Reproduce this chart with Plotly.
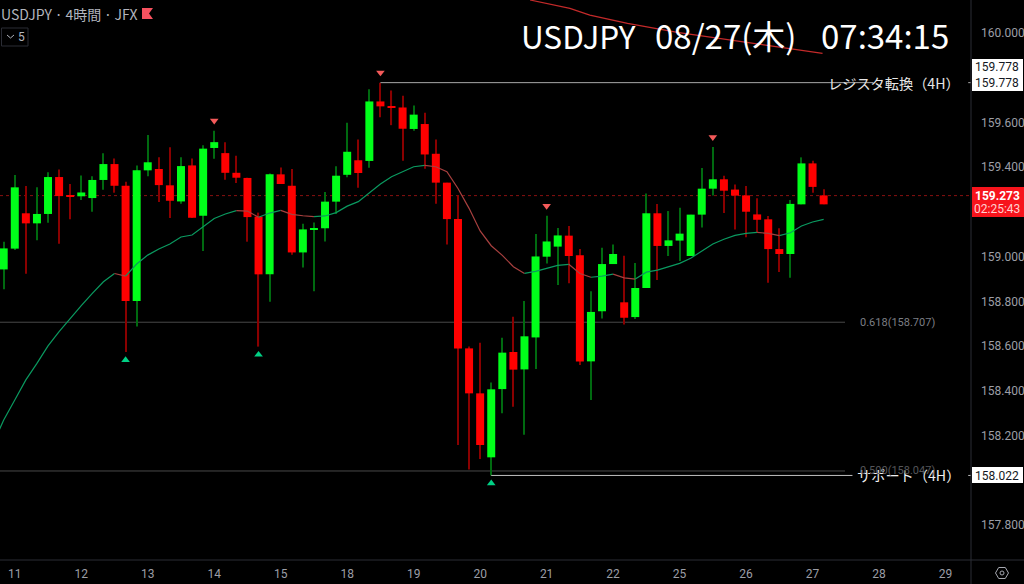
import plotly.graph_objects as go

W, H = 1024, 584
PLOT_R, PLOT_B = 971, 560

# candles, 4H bars, oldest first
opens = [158.943, 159.036, 159.194, 159.149, 159.191, 159.356, 159.273, 159.270, 159.262, 159.343,
         159.414, 159.317, 158.802, 159.386, 159.392, 159.319, 159.247, 159.408, 159.183, 159.486,
         159.463, 159.375, 159.352, 159.179, 158.921, 159.368, 159.317, 159.019, 159.121, 159.127,
         159.246, 159.366, 159.431, 159.428, 159.694, 159.669, 159.667, 159.571, 159.593, 159.460,
         159.331, 159.168, 158.590, 158.389, 158.103, 158.408, 158.574, 158.496, 158.639, 159.000,
         159.045, 159.094, 159.006, 158.532, 158.756, 158.967, 158.796, 158.730, 158.860, 159.194,
         159.048, 159.072, 159.003, 159.188, 159.304, 159.346, 159.300, 159.274, 159.189, 159.167,
         159.034, 159.012, 159.234, 159.417, 159.274]
highs = [159.067, 159.365, 159.316, 159.310, 159.378, 159.390, 159.325, 159.363, 159.360, 159.462,
         159.439, 159.335, 159.408, 159.544, 159.444, 159.489, 159.444, 159.439, 159.498, 159.563,
         159.512, 159.451, 159.353, 159.197, 159.372, 159.399, 159.392, 159.147, 159.153, 159.289,
         159.404, 159.599, 159.524, 159.749, 159.778, 159.743, 159.720, 159.676, 159.644, 159.524,
         159.331, 159.273, 158.598, 158.615, 158.438, 158.638, 158.732, 158.802, 159.101, 159.183,
         159.128, 159.137, 159.034, 158.846, 159.040, 159.055, 159.004, 158.972, 159.283, 159.235,
         159.204, 159.219, 159.188, 159.396, 159.490, 159.362, 159.323, 159.316, 159.261, 159.182,
         159.127, 159.253, 159.444, 159.429, 159.301]
lows = [158.854, 159.030, 158.924, 159.074, 159.152, 159.058, 159.167, 159.253, 159.201, 159.299,
        159.286, 158.574, 158.688, 159.360, 159.244, 159.173, 159.237, 159.173, 159.025, 159.438,
        159.344, 159.329, 159.067, 158.598, 158.799, 159.325, 159.009, 158.952, 158.846, 159.068,
        159.191, 159.355, 159.308, 159.398, 159.623, 159.588, 159.429, 159.563, 159.393, 159.237,
        159.054, 158.158, 158.049, 158.095, 158.022, 158.300, 158.329, 158.204, 158.498, 158.969,
        158.873, 158.881, 158.516, 158.359, 158.724, 158.967, 158.697, 158.721, 158.860, 158.896,
        159.003, 158.981, 159.003, 159.130, 159.273, 159.195, 159.121, 159.087, 159.107, 158.884,
        158.932, 158.906, 159.234, 159.286, 159.234]
closes = [159.037, 159.310, 159.149, 159.191, 159.356, 159.271, 159.270, 159.287, 159.343, 159.414,
          159.317, 158.802, 159.386, 159.422, 159.320, 159.250, 159.405, 159.174, 159.483, 159.512,
          159.375, 159.353, 159.177, 158.921, 159.368, 159.325, 159.019, 159.122, 159.127, 159.246,
          159.362, 159.469, 159.374, 159.694, 159.672, 159.666, 159.572, 159.635, 159.457, 159.331,
          159.168, 158.590, 158.389, 158.158, 158.407, 158.571, 158.495, 158.644, 159.001, 159.068,
          159.095, 159.003, 158.531, 158.753, 158.967, 159.012, 158.727, 158.860, 159.194, 159.048,
          159.073, 159.103, 159.188, 159.304, 159.346, 159.295, 159.273, 159.201, 159.165, 159.034,
          159.012, 159.236, 159.417, 159.312, 159.234]
# ema has one more point than the candles, it runs in from the bar left of the frame
ema = [158.158, 158.270, 158.359, 158.449, 158.523, 158.601, 158.665, 158.724, 158.781, 158.836, 158.888,
       158.925, 158.913, 158.967, 159.007, 159.034, 159.057, 159.088, 159.097, 159.134, 159.171,
       159.191, 159.206, 159.204, 159.176, 159.195, 159.207, 159.189, 159.183, 159.179, 159.182,
       159.197, 159.226, 159.246, 159.287, 159.325, 159.357, 159.378, 159.402, 159.408, 159.402,
       159.380, 159.305, 159.216, 159.115, 159.049, 159.006, 158.955, 158.925, 158.934, 158.948,
       158.961, 158.966, 158.925, 158.908, 158.913, 158.922, 158.905, 158.900, 158.931, 158.940,
       158.955, 158.970, 158.993, 159.027, 159.057, 159.078, 159.095, 159.104, 159.109, 159.104,
       159.094, 159.107, 159.137, 159.155, 159.167]

# swing markers
peak_idx = [19, 34, 49, 64]
peak_price = [159.608, 159.823, 159.227, 159.534]
trough_idx = [11, 23, 44]
trough_price = [158.538, 158.562, 157.987]

# red trend line at the top
trend_idx = [47.5, 51.1, 52.9, 56.3, 60.8, 66.7, 73.9]
trend_price = [160.1475, 160.110, 160.080, 160.043, 160.003, 159.961, 159.909]

# x axis: one label every 6 bars
day_ticks = [1, 7, 13, 19, 25, 31, 37, 43, 49, 55, 61, 67, 73, 79, 85]
day_labels = ["11", "12", "13", "14", "15", "18", "19", "20", "21", "22", "25", "26", "27", "28", "29"]

# the labels hidden behind the price tags are left out
price_ticks = [160.0, 159.6, 159.4, 159.0, 158.8, 158.6, 158.4, 158.2, 157.8]
price_labels = ["160.000", "159.600", "159.400", "159.000", "158.800", "158.600", "158.400", "158.200", "157.800"]

RESIST = 159.778
SUPPORT = 158.022
FIB_618 = 158.707
FIB_500 = 158.042
LAST = 159.273

GREEN, RED = "#00ff1a", "#ff0000"
WICK_G, WICK_R = "#006a10", "#8a0000"
GREY = "#9c9ea6"
AXIS = "#2a2c34"
UI_FONT = "Roboto"
JP_FONT = "Noto Sans CJK JP"


def px(x):
    return x / W


def py(y):
    return 1 - y / H


def poly(points):
    return "M" + " L".join(f"{px(a):.5f},{py(b):.5f}" for a, b in points) + " Z"


idx = list(range(len(opens)))
ema_idx = [-1] + idx
up = [c >= o for o, c in zip(opens, closes)]
body_base = [min(o, c) for o, c in zip(opens, closes)]
body_size = [max(abs(o - c), 0.004) for o, c in zip(opens, closes)]

fig = go.Figure()

fig.add_trace(go.Bar(
    x=idx, y=[h - l for h, l in zip(highs, lows)], base=lows, width=0.1,
    marker=dict(color=[WICK_G if u else WICK_R for u in up], line_width=0),
))
fig.add_trace(go.Bar(
    x=idx, y=body_size, base=body_base, width=0.72,
    marker=dict(color=[GREEN if u else RED for u in up], line_width=0),
))

# ema: green while rising, red while falling
start = 0
for i in range(1, len(ema) + 1):
    if i == len(ema) or (ema[i] >= ema[i - 1]) != (ema[start + 1] >= ema[start]):
        rising = ema[start + 1] >= ema[start]
        fig.add_trace(go.Scatter(
            x=ema_idx[start:i], y=ema[start:i], mode="lines",
            line=dict(color="#0a9a60" if rising else "#a8403f", width=1.2),
        ))
        start = i - 1

fig.add_trace(go.Scatter(x=trend_idx, y=trend_price, mode="lines", line=dict(color="#c42a2a", width=1.2)))

# level lines
fig.add_trace(go.Scatter(x=[34, 78.5], y=[RESIST, RESIST], mode="lines", line=dict(color="#a8a8a8", width=1)))
fig.add_trace(go.Scatter(x=[44, 76.6], y=[SUPPORT, SUPPORT], mode="lines", line=dict(color="#c0c0c0", width=1)))
fig.add_trace(go.Scatter(x=[87.05, 87.3], y=[RESIST, RESIST], mode="lines", line=dict(color="#a8a8a8", width=1)))
fig.add_trace(go.Scatter(x=[87.05, 87.3], y=[SUPPORT, SUPPORT], mode="lines", line=dict(color="#c0c0c0", width=1)))

fig.add_trace(go.Scatter(
    x=peak_idx, y=peak_price, mode="markers",
    marker=dict(symbol="triangle-down", size=7.5, color="#f45a5a"),
))
fig.add_trace(go.Scatter(
    x=trough_idx, y=trough_price, mode="markers",
    marker=dict(symbol="triangle-up", size=7.5, color="#00d084"),
))

shapes = [
    # fib levels and last price sit behind the candles
    dict(type="line", xref="paper", yref="y", x0=0, x1=px(845), y0=FIB_618, y1=FIB_618,
         line=dict(color="#484848", width=1), layer="below"),
    dict(type="line", xref="paper", yref="y", x0=0, x1=px(845), y0=FIB_500, y1=FIB_500,
         line=dict(color="#484848", width=1), layer="below"),
    dict(type="line", xref="paper", yref="y", x0=0, x1=px(PLOT_R), y0=LAST, y1=LAST,
         line=dict(color="#8a1010", width=1, dash="dot"), layer="below"),
    # frame
    dict(type="line", xref="paper", yref="paper", x0=px(PLOT_R), x1=px(PLOT_R), y0=0, y1=1,
         line=dict(color=AXIS, width=1)),
    dict(type="line", xref="paper", yref="paper", x0=0, x1=1, y0=py(PLOT_B), y1=py(PLOT_B),
         line=dict(color=AXIS, width=1)),
    # price tags
    dict(type="rect", xref="paper", yref="paper", x0=px(972), x1=px(1023), y0=py(59), y1=py(91),
         fillcolor="#ffffff", line_width=0),
    dict(type="rect", xref="paper", yref="paper", x0=px(972), x1=px(1023), y0=py(467), y1=py(483),
         fillcolor="#ffffff", line_width=0),
    dict(type="rect", xref="paper", yref="paper", x0=px(972), x1=px(1024), y0=py(187), y1=py(217),
         fillcolor="#f7141c", line_width=0),
    # flag
    dict(type="path", xref="paper", yref="paper", line_width=0, fillcolor="#f7525f",
         path=poly([(142, 8), (153, 8), (149, 13.5), (153, 19), (142, 19)])),
    # "5" button
    dict(type="rect", xref="paper", yref="paper", x0=px(1.5), x1=px(28), y0=py(28), y1=py(46),
         line=dict(color=AXIS, width=1)),
    dict(type="path", xref="paper", yref="paper", line=dict(color="#b2b5be", width=1),
         path=f"M{px(7):.5f},{py(35):.5f} L{px(10.5):.5f},{py(38):.5f} L{px(14):.5f},{py(35):.5f}"),
    # settings icon
    dict(type="path", xref="paper", yref="paper", line=dict(color="#a6a8b0", width=1),
         path=poly([(995.5, 573), (998.7, 567.5), (1005.3, 567.5), (1008.5, 573), (1005.3, 578.5), (998.7, 578.5)])),
    dict(type="circle", xref="paper", yref="paper", x0=px(1000), x1=px(1004), y0=py(571), y1=py(575),
         line=dict(color="#a6a8b0", width=1)),
]


def label(x, y, text, size, color, anchor="left", font=UI_FONT, yref="paper"):
    return dict(x=x, y=y, xref="paper", yref=yref, text=text, showarrow=False, xanchor=anchor, yanchor="middle",
                font=dict(family=font, size=size, color=color), borderpad=0)


annotations = [
    label(px(0), py(14), "USDJPY\u2009·\u20094時間\u2009·\u2009JFX", 14, "#b2b5be", font=JP_FONT),
    label(px(17), py(37), "5", 12, "#b2b5be"),
    # title is three pieces, the gaps in the original are wider than any space
    label(px(520), py(35), "USDJPY", 31.5, "#ffffff", font=JP_FONT),
    label(px(654), py(35), "08/27(木)", 33, "#ffffff", font=JP_FONT),
    label(px(950), py(35), "07:34:15", 33, "#ffffff", "right", JP_FONT),
    label(px(961), RESIST, "レジスタ転換（4H）", 14.2, "#e6e6e6", "right", JP_FONT, "y"),
    label(px(961), SUPPORT, "サポート（4H）", 14.2, "#f0f0f0", "right", JP_FONT, "y"),
    label(px(859), FIB_618, "0.618(158.707)", 11, "#7c7e84", yref="y"),
    label(px(859), FIB_500 + 0.002, "0.500(158.047)", 11, "#55565a", yref="y"),
    label(px(997), py(67), "159.778", 12, "#131722", "center"),
    label(px(997), py(83), "159.778", 12, "#131722", "center"),
    label(px(997), py(475.5), "158.022", 12, "#131722", "center"),
    label(px(997), py(195.5), "<b>159.273</b>", 12, "#ffffff", "center"),
    label(px(997), py(209), "02:25:43", 12, "#ffd0d0", "center"),
]

fig.update_layout(
    width=W,
    height=H,
    margin=dict(l=0, r=0, t=0, b=0),
    paper_bgcolor="#000000",
    plot_bgcolor="#000000",
    barmode="overlay",
    showlegend=False,
    shapes=shapes,
    annotations=annotations,
    xaxis=dict(
        domain=[0, px(PLOT_R)], range=[-0.334, 87.3], showgrid=False, zeroline=False,
        tickmode="array", tickvals=day_ticks, ticktext=day_labels,
        tickfont=dict(family=UI_FONT, size=12, color=GREY), ticks="", ticklen=0, ticklabelstandoff=5,
    ),
    yaxis=dict(
        domain=[py(PLOT_B), 1], range=[157.644, 160.1475], side="right", showgrid=False, zeroline=False,
        tickmode="array", tickvals=price_ticks, ticktext=price_labels,
        tickfont=dict(family=UI_FONT, size=12, color=GREY), ticks="", ticklabelstandoff=9,
    ),
)

fig.write_html("out.html", config={"displayModeBar": False}, post_script="document.body.style.margin='0'")
